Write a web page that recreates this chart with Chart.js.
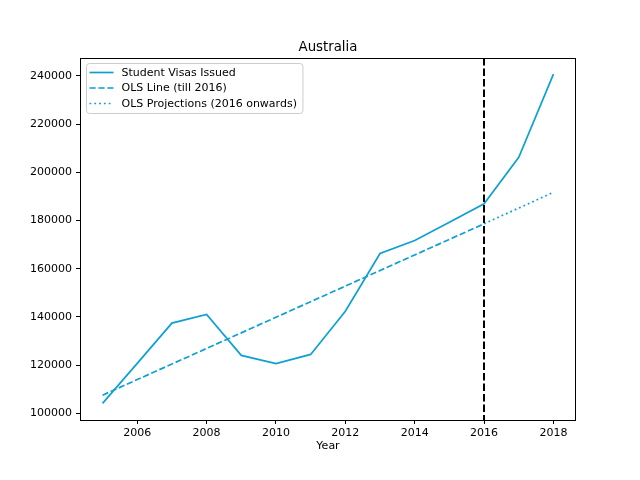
<!DOCTYPE html>
<html>
<head>
<meta charset="utf-8">
<script src="https://cdn.jsdelivr.net/npm/chart.js@4/dist/chart.umd.min.js"></script>
<style>
  html, body { margin: 0; padding: 0; background: #fff; }
  #wrap { width: 640px; height: 480px; }
</style>
</head>
<body>
<div id="wrap"><canvas id="visaChart" width="640" height="480"></canvas></div>
<script>
// Data
const years = [2005, 2006, 2007, 2008, 2009, 2010, 2011, 2012, 2013, 2014, 2015, 2016, 2017, 2018];
const visas = [104100, 120700, 137400, 141000, 124000, 120600, 124400, 142300, 166300, 171700, 179200, 186900, 206200, 240700];

// OLS fit up to 2016, and projection from 2016 onwards
const olsYears = [2005, 2006, 2007, 2008, 2009, 2010, 2011, 2012, 2013, 2014, 2015, 2016];
const olsValues = [107500, 113970, 120430, 126900, 133360, 139830, 146290, 152760, 159220, 165690, 172150, 178620];
const projYears = [2016, 2017, 2018];
const projValues = [178620, 185150, 191700];

const splitYear = 2016;
const xTicks = [2006, 2008, 2010, 2012, 2014, 2016, 2018];
const yTicks = [100000, 120000, 140000, 160000, 180000, 200000, 220000, 240000];

const lineColor = '#0ea0d2';
const font = "'DejaVu Sans', sans-serif";

const toPoints = (xs, ys) => xs.map((x, i) => ({ x: x, y: ys[i] }));

// frame, vertical marker, title and legend drawn on top
const extras = {
  id: 'extras',
  afterDatasetsDraw(chart) {
    const ctx = chart.ctx;
    const area = chart.chartArea;
    const xs = chart.scales.x;

    // vertical line at the split year
    const vx = Math.round(xs.getPixelForValue(splitYear));
    ctx.save();
    ctx.strokeStyle = '#000';
    ctx.lineWidth = 2;
    ctx.setLineDash([7.5, 3]);
    ctx.beginPath();
    ctx.moveTo(vx, area.top);
    ctx.lineTo(vx, area.bottom);
    ctx.stroke();
    ctx.restore();
  },
  afterDraw(chart) {
    const ctx = chart.ctx;
    const area = chart.chartArea;

    // axes frame
    ctx.save();
    ctx.strokeStyle = '#000';
    ctx.lineWidth = 1;
    ctx.strokeRect(Math.round(area.left) + 0.5, Math.round(area.top) + 0.5,
      Math.round(area.right - area.left) - 1, Math.round(area.bottom - area.top));

    // title
    ctx.fillStyle = '#000';
    ctx.font = '13.3px ' + font;
    ctx.textAlign = 'center';
    ctx.textBaseline = 'alphabetic';
    ctx.fillText('Australia', (area.left + area.right) / 2, 51);

    // legend
    ctx.font = '11px ' + font;
    const items = chart.data.datasets.map(d => ({ label: d.label, dash: d.borderDash || [] }));
    let maxW = 0;
    items.forEach(it => { maxW = Math.max(maxW, ctx.measureText(it.label).width); });
    const bx = area.left + 6.5, by = area.top + 5.5;
    const bw = 41 + maxW, bh = 50;
    ctx.beginPath();
    ctx.roundRect(bx, by, bw, bh, 3);
    ctx.fillStyle = 'rgba(255,255,255,0.8)';
    ctx.fill();
    ctx.strokeStyle = '#cccccc';
    ctx.lineWidth = 1;
    ctx.stroke();

    ctx.textAlign = 'left';
    ctx.textBaseline = 'middle';
    items.forEach((it, i) => {
      const cy = by + 9 + i * 15.5;
      ctx.strokeStyle = lineColor;
      ctx.lineWidth = 1.7;
      ctx.setLineDash(it.dash);
      ctx.beginPath();
      ctx.moveTo(bx + 3, cy);
      ctx.lineTo(bx + 27, cy);
      ctx.stroke();
      ctx.setLineDash([]);
      ctx.fillStyle = '#000';
      ctx.fillText(it.label, bx + 35, cy + 0.5);
    });
    ctx.restore();
  }
};

const tickFont = { family: font, size: 11 };

new Chart(document.getElementById('visaChart').getContext('2d'), {
  type: 'line',
  data: {
    datasets: [
      {
        label: 'Student Visas Issued',
        data: toPoints(years, visas),
        borderColor: lineColor,
        borderWidth: 1.7,
        pointRadius: 0,
        fill: false,
        tension: 0
      },
      {
        label: 'OLS Line (till 2016)',
        data: toPoints(olsYears, olsValues),
        borderColor: lineColor,
        borderWidth: 1.7,
        borderDash: [6.2, 2.7],
        pointRadius: 0,
        fill: false
      },
      {
        label: 'OLS Projections (2016 onwards)',
        data: toPoints(projYears, projValues),
        borderColor: lineColor,
        borderWidth: 1.7,
        borderDash: [1.8, 3],
        pointRadius: 0,
        fill: false
      }
    ]
  },
  options: {
    responsive: false,
    animation: false,
    devicePixelRatio: 1,
    layout: { padding: { top: 58, right: 64, bottom: 25, left: 0 } },
    plugins: {
      legend: { display: false },
      title: { display: false },
      tooltip: { enabled: false }
    },
    scales: {
      x: {
        type: 'linear',
        min: 2004.35,
        max: 2018.65,
        afterBuildTicks: s => { s.ticks = xTicks.map(v => ({ value: v })); },
        afterFit: s => { s.height = 35; },
        ticks: { color: '#000', font: tickFont, padding: 3, maxRotation: 0, callback: v => String(v) },
        grid: { drawOnChartArea: false, drawTicks: true, tickLength: 4, color: '#000' },
        border: { display: false },
        title: { display: true, text: 'Year', color: '#000', font: tickFont, padding: { top: 0, bottom: 2 } }
      },
      y: {
        type: 'linear',
        min: 97200,
        max: 247400,
        afterBuildTicks: s => { s.ticks = yTicks.map(v => ({ value: v })); },
        afterFit: s => { s.width = 80; },
        ticks: { color: '#000', font: tickFont, padding: 4, callback: v => String(v) },
        grid: { drawOnChartArea: false, drawTicks: true, tickLength: 4, color: '#000' },
        border: { display: false }
      }
    }
  },
  plugins: [extras]
});
</script>
</body>
</html>
